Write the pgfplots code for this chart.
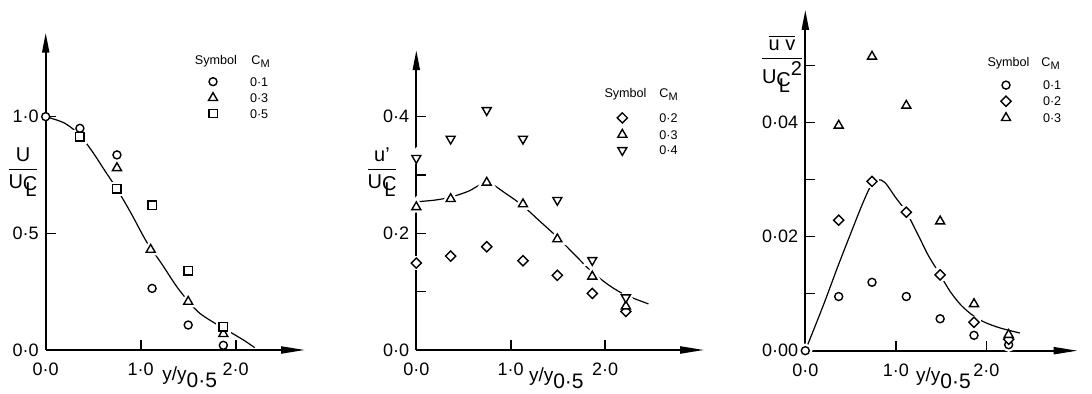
\documentclass[border=0pt]{standalone}
\usepackage{fontspec}
\setmainfont{Liberation Sans}
\usepackage{amsmath}
\usepackage{pgfplots}
\pgfplotsset{compat=1.18}
\usetikzlibrary{arrows.meta}
\newcommand{\CL}{\raisebox{-0.25ex}{\makebox[0pt][l]{\hspace{0.12em}\raisebox{-0.55ex}{L}}C}}
\newcommand{\yy}{y/y\raisebox{-0.7ex}{\fontsize{10.5}{12}\selectfont 0·5}}
\pgfplotsset{
  panel/.style={
    anchor=origin, clip=false,
    axis lines=left,
    axis line style={line width=1pt},
    x axis line style={-{Triangle[length=12pt,width=3.5pt]}},
    y axis line style={-{Triangle[length=10pt,width=3.5pt]}},
    tick align=inside, major tick length=5pt,
    tick style={line width=0.8pt, black},
    ticklabel style={font=\fontsize{9}{10}\selectfont},
    scaled x ticks=false, scaled y ticks=false,
    xticklabel style={yshift=-3pt},
    xtick={0,1,2}, xticklabels={0·0,1·0,2·0},
    xmin=0, ymin=0,
    legend style={draw=none, fill=none, inner sep=0pt, outer sep=0pt,
      font=\fontsize{6.3}{7}\selectfont, row sep=3.2pt, column sep=0pt,
      nodes={inner sep=0pt, text height=4.6pt, text depth=0pt}},
    legend cell align=left,
  },
  lim/.style={legend image code/.code={\draw[##1] plot coordinates {(0pt,0pt)}; \path[draw=none, fill=none] (-3pt,-2pt) rectangle (18.5pt,2pt);}},
  mcirc/.style={only marks, mark=*, mark size=2pt, mark options={solid, fill=white, line width=0.7pt}, lim},
  mtri/.style={only marks, mark=triangle*, mark size=2.6pt, mark options={solid, fill=white, line width=0.7pt}, lim},
  mdtri/.style={only marks, mark=triangle*, mark size=2.6pt, mark options={solid, fill=white, line width=0.7pt, rotate=180}, lim},
  msq/.style={only marks, mark=square*, mark size=2.1pt, mark options={solid, fill=white, line width=0.7pt}, lim},
  mdia/.style={only marks, mark=square*, mark size=1.8pt, mark options={solid, fill=white, line width=0.7pt, rotate=45}, lim},
  halo/.style={forget plot, mark options={draw=white, fill=white, line width=3pt}},
  crv/.style={black, line width=0.6pt, no marks, smooth, tension=0.5, forget plot},
}
\begin{document}
\begin{tikzpicture}
\useasboundingbox (0,0) rectangle (546pt,197pt);
% ---------------- panel 1
\pgfplotstableread{
x y
0 1.0
0.36 0.95
0.75 0.836
1.12 0.264
1.5 0.107
1.87 0.02
}\pA
\pgfplotstableread{
x y
0.75 0.78
1.105 0.43
1.5 0.207
1.87 0.069
}\pB
\pgfplotstableread{
x y
0.36 0.914
0.75 0.69
1.12 0.621
1.5 0.339
1.87 0.1
}\pC
\begin{axis}[panel, at={(22.85pt,22pt)}, x=47.5pt, y=116.67pt,
  xmax=2.73, ymax=1.36,
  ytick={0,0.5,1}, yticklabels={0·0,0·5,1·0},
  legend style={at={(0.622,0.860)}, anchor=north west}]
\addplot[crv] coordinates {(0,1.0)(0.2,0.972)(0.36,0.92)(0.5,0.845)(0.62,0.77)(0.75,0.69)(0.9,0.585)(1.06,0.465)(1.22,0.37)(1.4,0.26)(1.6,0.165)(1.8,0.11)(1.97,0.07)(2.1,0.038)(2.2,0.01)};
\addplot[mtri, halo] table {\pB};
\addplot[msq, halo] table {\pC};
\addplot[mcirc] table {\pA};
\addlegendentry{0·1}
\addplot[mtri] table {\pB};
\addlegendentry{0·3}
\addplot[msq] table {\pC};
\addlegendentry{0·5}
\node[anchor=north west, inner sep=0pt, font=\fontsize{9.5}{11}\selectfont] at (axis cs:1.224,-0.072) {\yy};
\end{axis}
% ---------------- panel 2
\pgfplotstableread{
x y
0 0.149
0.364 0.161
0.746 0.177
1.13 0.153
1.494 0.128
1.864 0.097
2.22 0.066
}\qA
\pgfplotstableread{
x y
0 0.245
0.364 0.259
0.746 0.287
1.13 0.25
1.494 0.19
1.864 0.126
2.22 0.075
}\qB
\pgfplotstableread{
x y
0 0.329
0.364 0.362
0.746 0.411
1.13 0.362
1.494 0.257
1.864 0.154
2.22 0.09
}\qC
\begin{axis}[panel, at={(208.15pt,22pt)}, x=47.2pt, y=291.67pt,
  xmax=3.05, ymax=0.514,
  ytick={0,0.1,0.2,0.3,0.4}, yticklabels={0·0,,0·2,,0·4},
  legend style={at={(0.6947,0.791)}, anchor=north west}]
\addplot[crv] coordinates {(0,0.254)(0.2,0.257)(0.364,0.262)(0.55,0.272)(0.75,0.287)(0.95,0.268)(1.13,0.247)(1.3,0.222)(1.49,0.194)(1.68,0.163)(1.86,0.134)(2.05,0.11)(2.22,0.094)(2.46,0.079)};
\addplot[mtri, halo] table {\qB};
\addplot[mdtri, halo] table {\qC};
\addplot[mdia, halo] table {\qA};
\addplot[mdia] table {\qA};
\addlegendentry{0·2}
\addplot[mtri] table {\qB};
\addlegendentry{0·3}
\addplot[mdtri] table {\qC};
\addlegendentry{0·4}
\node[anchor=north west, inner sep=0pt, font=\fontsize{9.5}{11}\selectfont] at (axis cs:1.19,-0.029) {\yy};
\end{axis}
% ---------------- panel 3
\pgfplotstableread{
x y
0 0
0.369 0.0095
0.737 0.012
1.116 0.0095
1.49 0.0056
1.864 0.0027
2.247 0.00105
}\rA
\pgfplotstableread{
x y
0.369 0.0229
0.737 0.0297
1.116 0.0243
1.49 0.0133
1.864 0.005
2.247 0.002
}\rB
\pgfplotstableread{
x y
0.369 0.0395
0.737 0.0516
1.116 0.043
1.49 0.0227
1.864 0.0082
2.247 0.0028
}\rC
\begin{axis}[panel, at={(402.65pt,21.65pt)}, x=45.25pt, y=2850pt,
  xmax=3.01, ymax=0.0598,
  ytick={0,0.01,0.02,0.03,0.04,0.05}, yticklabels={0·00,,0·02,,0·04,},
  legend style={at={(0.7148,0.7926)}, anchor=north west}]
\addplot[crv] coordinates {(0,0)(0.2,0.008)(0.36,0.0148)(0.5,0.0205)(0.62,0.0253)(0.72,0.0288)(0.8,0.0300)(0.88,0.0295)(0.988,0.0271)(1.116,0.0243)(1.25,0.0202)(1.356,0.0168)(1.49,0.0133)(1.6,0.0104)(1.72,0.0080)(1.85,0.0062)(1.98,0.0050)(2.15,0.0040)(2.37,0.0031)};
\addplot[mdia, halo] table {\rB};
\addplot[mcirc, halo] table {\rA};
\addplot[mcirc] table {\rA};
\addlegendentry{0·1}
\addplot[mdia] table {\rB};
\addlegendentry{0·2}
\addplot[mtri] table {\rC};
\addlegendentry{0·3}
\node[anchor=north west, inner sep=0pt, font=\fontsize{9.5}{11}\selectfont] at (axis cs:1.22,-0.0029) {\yy};
\end{axis}
% ---------------- y labels and legend headers
\node[font=\fontsize{10}{11}\selectfont, inner sep=0pt] at (11.5pt,111pt) {$\dfrac{\text{U}}{\text{U\CL}}$};
\node[font=\fontsize{10}{11}\selectfont, inner sep=0pt] at (191pt,111pt) {$\dfrac{\text{u'}}{\text{U\CL}}$};
\node[font=\fontsize{10}{11}\selectfont, inner sep=0pt] at (391pt,165pt) {$\dfrac{\overline{\text{u v}}}{\text{U\CL\raisebox{0.8ex}{2}}}$};
\begin{scope}[every node/.style={inner sep=0pt, font=\fontsize{6.3}{7}\selectfont}]
\node[anchor=base] at (108pt,164.75pt) {Symbol};
\node[anchor=base west] at (125.5pt,164.5pt) {C\raisebox{-0.45ex}{\fontsize{5.5}{6}\selectfont M}};
\node[anchor=base] at (312.75pt,148.15pt) {Symbol};
\node[anchor=base west] at (329.5pt,148pt) {C\raisebox{-0.45ex}{\fontsize{5.5}{6}\selectfont M}};
\node[anchor=base] at (504.25pt,163.65pt) {Symbol};
\node[anchor=base west] at (520.5pt,163.5pt) {C\raisebox{-0.45ex}{\fontsize{5.5}{6}\selectfont M}};
\end{scope}
\end{tikzpicture}
\end{document}
